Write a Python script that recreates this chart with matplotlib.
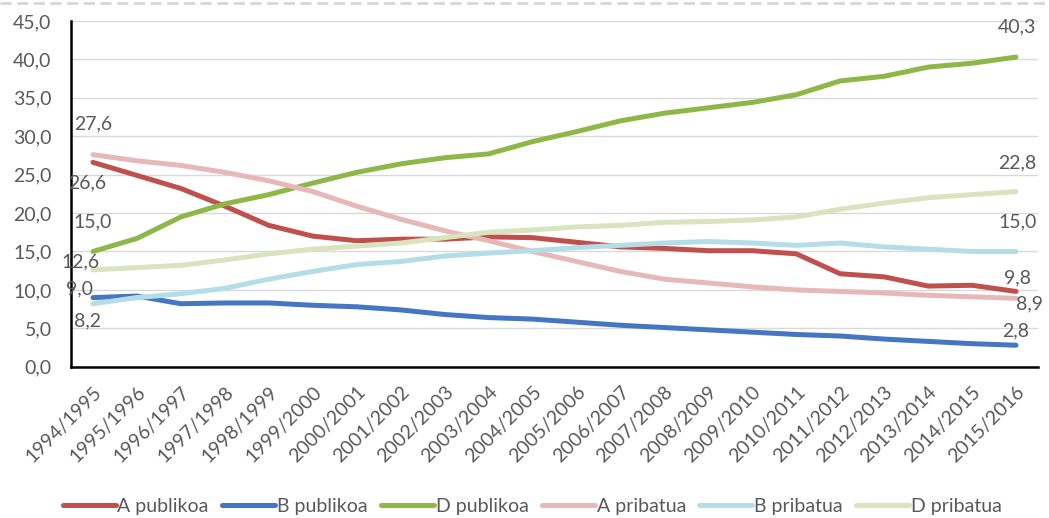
import numpy as np
import matplotlib.pyplot as plt
from matplotlib.lines import Line2D

plt.rcParams['font.family'] = ['Lato', 'DejaVu Sans']

seasons = ['1994/1995', '1995/1996', '1996/1997', '1997/1998', '1998/1999',
           '1999/2000', '2000/2001', '2001/2002', '2002/2003', '2003/2004',
           '2004/2005', '2005/2006', '2006/2007', '2007/2008', '2008/2009',
           '2009/2010', '2010/2011', '2011/2012', '2012/2013', '2013/2014',
           '2014/2015', '2015/2016']

a_publikoa = [26.6, 24.9, 23.2, 20.9, 18.4, 17.0, 16.4, 16.6, 16.6, 16.9, 16.8,
              16.2, 15.6, 15.4, 15.1, 15.1, 14.7, 12.1, 11.7, 10.5, 10.6, 9.8]
b_publikoa = [9.0, 9.2, 8.2, 8.3, 8.3, 8.0, 7.8, 7.4, 6.8, 6.4, 6.2,
              5.8, 5.4, 5.1, 4.8, 4.5, 4.2, 4.0, 3.6, 3.3, 3.0, 2.8]
d_publikoa = [15.0, 16.7, 19.5, 21.2, 22.4, 23.9, 25.3, 26.4, 27.2, 27.7, 29.3,
              30.6, 32.0, 33.0, 33.7, 34.4, 35.4, 37.2, 37.8, 39.0, 39.5, 40.3]
a_pribatua = [27.6, 26.8, 26.2, 25.3, 24.2, 22.8, 20.9, 19.2, 17.7, 16.4, 15.0,
              13.7, 12.4, 11.4, 10.9, 10.4, 10.0, 9.8, 9.6, 9.3, 9.1, 8.9]
b_pribatua = [8.2, 9.0, 9.5, 10.2, 11.4, 12.4, 13.3, 13.7, 14.4, 14.8, 15.1,
              15.5, 15.8, 16.1, 16.3, 16.1, 15.8, 16.1, 15.6, 15.3, 15.0, 15.0]
d_pribatua = [12.6, 12.9, 13.2, 13.9, 14.7, 15.3, 15.7, 16.1, 16.8, 17.5, 17.8,
              18.2, 18.4, 18.8, 18.9, 19.1, 19.5, 20.5, 21.3, 22.0, 22.4, 22.8]

series = [
    ('A publikoa', a_publikoa, '#C0504D'),
    ('B publikoa', b_publikoa, '#4675C1'),
    ('D publikoa', d_publikoa, '#8DB848'),
    ('A pribatua', a_pribatua, '#E6B9B8'),
    ('B pribatua', b_pribatua, '#B5DDE8'),
    ('D pribatua', d_pribatua, '#D7E4BD'),
]

# offsets (points) of the first / last value labels
first_off = {'A publikoa': (-4, -15), 'B publikoa': (-10, 6), 'D publikoa': (0, 21),
             'A pribatua': (0, 22), 'B pribatua': (-4, -12), 'D pribatua': (-9, 6)}
last_off = {'A publikoa': (1, 10), 'B publikoa': (0, 10), 'D publikoa': (1, 22),
            'A pribatua': (10, -4), 'B pribatua': (1, 21), 'D pribatua': (1, 21)}

txt = '#595959'
fs = 14
fig = plt.figure(figsize=(10.49, 5.18), dpi=100)
ax = fig.add_axes([0.0677, 0.292, 0.9218, 0.6675])

x = np.arange(len(seasons))
for name, vals, col in series:
    ax.plot(x, vals, color=col, lw=3.6, label=name,
            solid_joinstyle='round', solid_capstyle='round')

def fmt(v):
    return f'{v:.1f}'.replace('.', ',')

for name, vals, col in series:
    ax.annotate(fmt(vals[0]), (x[0], vals[0]), xytext=first_off[name],
                textcoords='offset points', ha='center', va='center',
                fontsize=fs, color=txt)
    ax.annotate(fmt(vals[-1]), (x[-1], vals[-1]), xytext=last_off[name],
                textcoords='offset points', ha='center', va='center',
                fontsize=fs, color=txt)

ax.set_xlim(-0.5, len(seasons) - 0.5)
ax.set_ylim(0, 45)
ax.set_yticks(np.arange(0, 46, 5))
ax.set_yticklabels([fmt(v) for v in np.arange(0, 46, 5)], fontsize=fs, color=txt)
ax.set_xticks(x)
ax.set_xticklabels(seasons, rotation=45, ha='right', rotation_mode='anchor',
                   fontsize=fs, color=txt)
ax.tick_params(length=0)
ax.tick_params(axis='y', pad=14)
ax.tick_params(axis='x', pad=12)
ax.grid(axis='y', color='#D9D9D9', lw=1)
ax.set_axisbelow(True)
for s in ['top', 'right']:
    ax.spines[s].set_visible(False)
for s in ['left', 'bottom']:
    ax.spines[s].set_color('black')
    ax.spines[s].set_linewidth(1.8)

ax.legend(loc='center', bbox_to_anchor=(0.477, -0.405), ncol=6, frameon=False,
          fontsize=fs, handlelength=2.7, handletextpad=0.1, columnspacing=0.7,
          labelcolor=txt, bbox_transform=ax.transAxes)

# dashed border across the top
fig.add_artist(Line2D([0, 1], [0.995, 0.995], transform=fig.transFigure,
                      color='#D6D6D6', lw=2, ls=(0, (4, 2))))

fig.savefig('out.png', dpi=100, facecolor='white')
